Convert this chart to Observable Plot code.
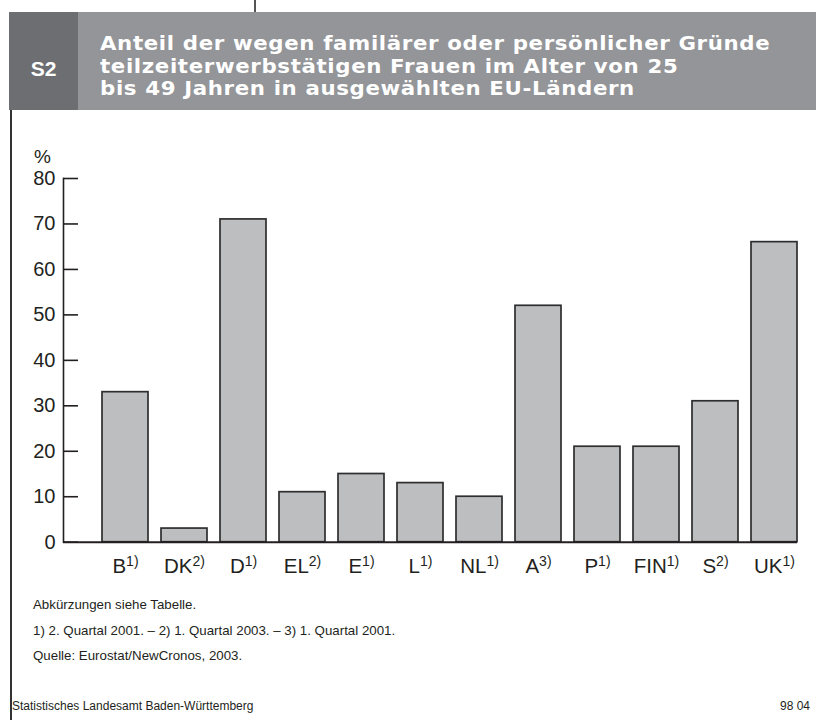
<!DOCTYPE html>
<html>
<head>
<meta charset="utf-8">
<script src="https://cdn.jsdelivr.net/npm/d3@7"></script>
<script src="https://cdn.jsdelivr.net/npm/@observablehq/plot@0.6"></script>
<style>
  html, body { margin: 0; padding: 0; background: #fff; }
  #page { position: relative; width: 816px; height: 720px; overflow: hidden; background: #fff; font-family: "Liberation Sans", Arial, sans-serif; color: #231f20; }
  .abs { position: absolute; }
  .title { font-family: "DejaVu Sans", sans-serif; font-weight: bold; font-size: 20px; letter-spacing: 0.6px; line-height: 22.5px; color: #fff; white-space: nowrap; transform: scaleX(1.065); transform-origin: 0 0; }
  .note { font-size: 13.3px; line-height: 16px; white-space: nowrap; }
</style>
</head>
<body>
<div id="page">
  <div class="abs" style="left:254px;top:0;width:1.5px;height:12px;background:#555"></div>
  <div class="abs" style="left:9px;top:12px;width:807px;height:98px;background:#939598"></div>
  <div class="abs" style="left:9px;top:12px;width:69px;height:98px;background:#6d6e71"></div>
  <div class="abs" style="left:9px;top:57px;width:69px;text-align:center;font-family:'Liberation Sans',Arial,sans-serif;font-weight:bold;font-size:21px;line-height:24px;color:#fff">S2</div>
  <div class="abs title" style="left:100px;top:32px">Anteil der wegen familärer oder persönlicher Gründe<br>teilzeiterwerbstätigen Frauen im Alter von 25<br>bis 49 Jahren in ausgewählten EU-Ländern</div>
  <div class="abs" style="left:10px;top:110px;width:1.5px;height:610px;background:#333"></div>
  <div id="chart" class="abs" style="left:0;top:110px"></div>
  <div class="abs note" style="left:33px;top:597px">Abkürzungen siehe Tabelle.</div>
  <div class="abs note" style="left:33px;top:623px">1) 2. Quartal 2001. – 2) 1. Quartal 2003. – 3) 1. Quartal 2001.</div>
  <div class="abs note" style="left:33px;top:648px">Quelle: Eurostat/NewCronos, 2003.</div>
  <div class="abs" style="left:12px;top:699px;font-size:12px;line-height:14px;white-space:nowrap">Statistisches Landesamt Baden-Württemberg</div>
  <div class="abs" style="right:6px;top:699px;font-size:12px;line-height:14px;white-space:nowrap">98 04</div>
</div>
<script>
const countries = ["B", "DK", "D", "EL", "E", "L", "NL", "A", "P", "FIN", "S", "UK"];
const footnotes = ["1)", "2)", "1)", "2)", "1)", "1)", "1)", "3)", "1)", "1)", "2)", "1)"];
const shares = [33, 3, 71, 11, 15, 13, 10, 52, 21, 21, 31, 66];
const yTicks = [0, 10, 20, 30, 40, 50, 60, 70, 80];
const unitLabel = ["%"];

const data = countries.map((c, i) => ({country: c, value: shares[i]}));

const chart = Plot.plot({
  width: 816,
  height: 475,
  marginLeft: 63,
  marginRight: 19,
  marginTop: 68,
  marginBottom: 43.3,
  style: {fontFamily: "'Liberation Sans', Arial, sans-serif", fontSize: "20px", color: "#231f20", background: "transparent", overflow: "visible"},
  x: {domain: countries, paddingInner: 0.22, paddingOuter: 0.32, align: 1, label: null},
  y: {domain: [0, 80], label: null},
  marks: [
    Plot.barY(data, {x: "country", y: "value", fill: "#bcbec0", stroke: "#2e2e2e", strokeWidth: 1.7}),
    Plot.axisY(yTicks, {tickSize: -15, tickPadding: 23, fontSize: 20, stroke: "#231f20", strokeWidth: 1.6, label: null}),
    Plot.axisX({tickSize: 0, tickPadding: 16, fontSize: 20.5, label: null}),
    Plot.frame({anchor: "left", stroke: "#231f20", strokeWidth: 1.6}),
    Plot.ruleY([0], {stroke: "#231f20", strokeWidth: 2}),
    Plot.text(unitLabel, {frameAnchor: "top-left", dx: -21, dy: -29, fontSize: 19, textAnchor: "middle"})
  ]
});

d3.select(chart).selectAll('g[aria-label="x-axis tick label"] text').each(function () {
  const c = this.textContent;
  const i = countries.indexOf(c);
  if (i >= 0) {
    d3.select(this).append("tspan").attr("font-size", 14).attr("dy", -6.5).text(footnotes[i]);
  }
});

document.getElementById("chart").appendChild(chart);
</script>
</body>
</html>
